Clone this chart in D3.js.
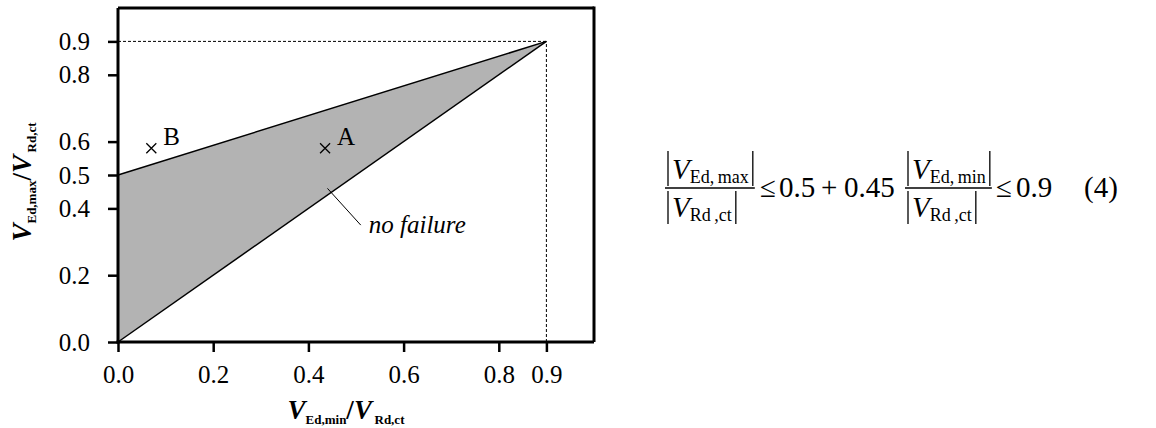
<!DOCTYPE html>
<html>
<head>
<meta charset="utf-8">
<script src="https://cdn.jsdelivr.net/npm/d3@7"></script>
<style>
  body { margin: 0; background: #fff; }
  text { font-family: "Liberation Serif", "Times New Roman", serif; fill: #000; }
</style>
</head>
<body>
<div id="chart"></div>
<script>
// chart values
const xTicks = [0, 0.2, 0.4, 0.6, 0.8, 0.9];
const yTicks = [0, 0.2, 0.4, 0.5, 0.6, 0.8, 0.9];
const regionPts = [[0, 0], [0, 0.5], [0.9, 0.9]];
const upperLine = [[0, 0.5], [0.9, 0.9]];
const lowerLine = [[0, 0], [0.9, 0.9]];
const limitX = 0.9, limitY = 0.9;
const points = [
  { name: "A", x: 0.435, y: 0.58 },
  { name: "B", x: 0.07, y: 0.58 }
];
const noteFrom = [0.44, 0.46], noteTo = [0.51, 0.35];
const noteText = "no failure";

const width = 1156, height = 428;

const svg = d3.select("#chart").append("svg")
  .attr("width", width)
  .attr("height", height);

const x = d3.scaleLinear().domain([0, 1]).range([118, 594]);
const y = d3.scaleLinear().domain([0, 1]).range([342, 8]);

const line = d3.line().x(d => x(d[0])).y(d => y(d[1]));

// shaded region
svg.append("path")
  .attr("d", line(regionPts) + "Z")
  .attr("fill", "#b3b3b3");

svg.append("path").attr("d", line(upperLine))
  .attr("fill", "none").attr("stroke", "#000").attr("stroke-width", 1.5);
svg.append("path").attr("d", line(lowerLine))
  .attr("fill", "none").attr("stroke", "#000").attr("stroke-width", 1.5);

// dashed limit lines
svg.append("path").attr("d", line([[0, limitY], [limitX, limitY]]))
  .attr("fill", "none").attr("stroke", "#000").attr("stroke-width", 1).attr("stroke-dasharray", "3,2");
svg.append("path").attr("d", line([[limitX, 0], [limitX, limitY]]))
  .attr("fill", "none").attr("stroke", "#000").attr("stroke-width", 1).attr("stroke-dasharray", "3,2");

// frame top / right
svg.append("line").attr("x1", x(0)).attr("x2", x(1)).attr("y1", y(1)).attr("y2", y(1))
  .attr("stroke", "#000").attr("stroke-width", 3);
svg.append("line").attr("x1", x(1)).attr("x2", x(1)).attr("y1", y(1) - 1.5).attr("y2", y(0))
  .attr("stroke", "#000").attr("stroke-width", 3);

// axes
const xAxis = svg.append("g")
  .attr("transform", `translate(0,${y(0)})`)
  .call(d3.axisBottom(x).tickValues(xTicks).tickSize(10).tickSizeOuter(0)
    .tickFormat(d3.format(".1f")));
const yAxis = svg.append("g")
  .attr("transform", `translate(${x(0)},0)`)
  .call(d3.axisLeft(y).tickValues(yTicks).tickSize(10).tickSizeOuter(0).tickPadding(18)
    .tickFormat(d3.format(".1f")));

[xAxis, yAxis].forEach(a => {
  a.select(".domain").attr("stroke", "#000").attr("stroke-width", 3);
  a.selectAll(".tick line").attr("stroke", "#000").attr("stroke-width", 2.5);
  a.selectAll(".tick text")
    .style("font-family", '"Liberation Serif", serif')
    .attr("font-size", 25).attr("fill", "#000");
});
xAxis.select(".domain").attr("d", `M${x(0) - 1.5},0H${x(1)}`);
yAxis.select(".domain").attr("d", `M0,${y(0) + 1.5}V${y(1)}`);
xAxis.selectAll(".tick text").attr("y", 41).attr("dy", 0);

// points A, B
const pt = svg.append("g").selectAll("g").data(points).join("g")
  .attr("transform", d => `translate(${x(d.x)},${y(d.y)})`);
pt.append("path")
  .attr("d", "M-5,-5L5,5M-5,5L5,-5")
  .attr("stroke", "#000").attr("stroke-width", 1.3);
pt.append("text")
  .attr("x", 12).attr("y", -3)
  .attr("font-size", 25)
  .text(d => d.name);

// "no failure" note
svg.append("path").attr("d", line([noteFrom, noteTo]))
  .attr("stroke", "#000").attr("stroke-width", 1);
svg.append("text")
  .attr("x", x(noteTo[0]) + 8).attr("y", y(noteTo[1]) + 8)
  .attr("font-size", 25).attr("font-style", "italic")
  .text(noteText);

// axis titles
function title(g, parts) {
  const t = g.append("text").attr("text-anchor", "middle").attr("font-weight", "bold");
  parts.forEach(p => {
    t.append("tspan")
      .attr("font-size", p.sub ? 13 : 27)
      .attr("font-style", p.it ? "italic" : "normal")
      .attr("dy", p.dy || 0)
      .text(p.t);
  });
}
const titleParts = (a, b) => [
  { t: "V", it: true },
  { t: a, sub: true, dy: 5 },
  { t: "/", dy: -5 },
  { t: "V", it: true },
  { t: "\u2009" + b, sub: true, dy: 5 }
];
title(svg.append("g").attr("transform", "translate(346,419)"), titleParts("Ed,min", "Rd,ct"));
title(svg.append("g").attr("transform", "translate(31,182) rotate(-90)"), titleParts("Ed,max", "Rd,ct"));

// equation (4)
const eq = svg.append("g");
const eqSize = 29, eqSub = 18, fracY = 188, eqBase = 197;
function absFrac(x0, num, den) {
  const g = eq.append("g");
  const rows = [
    { lab: num, base: fracY - 9, top: fracY - 37, bot: fracY - 2 },
    { lab: den, base: fracY + 29, top: fracY + 3, bot: fracY + 36 }
  ];
  let w = 0;
  rows.forEach(r => {
    const t = g.append("text").attr("x", x0 + 7).attr("y", r.base);
    t.append("tspan").attr("font-size", eqSize).attr("font-style", "italic").text("V");
    t.append("tspan").attr("font-size", eqSub).attr("dy", 4).text(r.lab);
    r.bw = t.node().getComputedTextLength();
    w = Math.max(w, r.bw);
  });
  rows.forEach(r => {
    const xl = x0 + 3, xr = x0 + 7 + r.bw + 4;
    [xl, xr].forEach(xx => g.append("line")
      .attr("x1", xx).attr("x2", xx).attr("y1", r.top).attr("y2", r.bot)
      .attr("stroke", "#000").attr("stroke-width", 1.3));
  });
  g.append("line").attr("x1", x0).attr("x2", x0 + w + 13).attr("y1", fracY).attr("y2", fracY)
    .attr("stroke", "#000").attr("stroke-width", 1.3);
}
function eqText(xx, s) {
  eq.append("text").attr("x", xx).attr("y", eqBase).attr("font-size", eqSize).text(s);
}
absFrac(665, "Ed,\u2009max", "Rd\u2009,ct");
eqText(760, "\u2264");
eqText(779, "0.5");
eqText(821, "+");
eqText(844, "0.45");
absFrac(905, "Ed,\u2009min", "Rd\u2009,ct");
eqText(996, "\u2264");
eqText(1016, "0.9");
eqText(1084, "(4)");
</script>
</body>
</html>
